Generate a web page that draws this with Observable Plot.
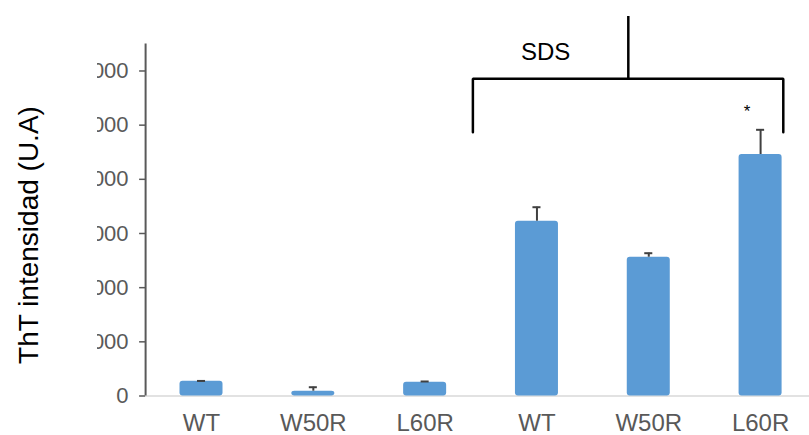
<!DOCTYPE html>
<html>
<head>
<meta charset="utf-8">
<script src="https://cdn.jsdelivr.net/npm/d3@7"></script>
<script src="https://cdn.jsdelivr.net/npm/@observablehq/plot@0.6"></script>
<style>
  html, body { margin: 0; padding: 0; background: #fff; overflow: hidden; }
  #page { position: relative; width: 809px; height: 435px; overflow: hidden; background: #fff;
          font-family: "Liberation Sans", Arial, sans-serif; }
  #ytitle { position: absolute; left: 29px; top: 235px; transform: translate(-50%, -50%) rotate(-90deg);
            white-space: nowrap; font-size: 28px; color: #000; }
  #plotwrap { position: absolute; left: 97px; top: 0; width: 712px; height: 435px; overflow: hidden; }
  #plotwrap svg { position: absolute; left: -97px; top: 0; max-width: none !important; width: 830px; height: 435px; }
</style>
</head>
<body>
<div id="page">
  <div id="ytitle">ThT intensidad (U.A)</div>
  <div id="plotwrap"></div>
</div>
<script>
// ThT fluorescence per variant, without and with SDS
const categories = ["WT", "W50R", "L60R", "WT", "W50R", "L60R"];
const treatment = ["", "", "", "SDS", "SDS", "SDS"];
const intensity = [273, 89, 255, 3227, 2562, 4458];
const errorUp = [5, 73, 13, 258, 74, 456];
const yTicks = [0, 1000, 2000, 3000, 4000, 5000, 6000];

// SDS bracket (x in category index units, y in intensity units)
const bracketLeft = 2.427;
const bracketRight = 5.203;
const bracketStem = 3.817;
const bracketLevel = 5856;
const bracketLegEnd = 4870;
const bracketStemTop = 7006;
const sdsLabel = {text: "SDS", x: 3.077, y: 6341};
const starLabel = {text: "*", x: 4.88, y: 5260};

const rows = categories.map((c, i) => ({i, category: c, treatment: treatment[i], value: intensity[i], err: errorUp[i]}));
const half = 0.1923;
const capHalf = 0.036;

const bracketPath = [
  {x: bracketLeft, y: bracketLegEnd},
  {x: bracketLeft, y: bracketLevel},
  {x: bracketRight, y: bracketLevel},
  {x: bracketRight, y: bracketLegEnd}
];

const chart = Plot.plot({
  width: 830,
  height: 435,
  marginLeft: 145.1,
  marginRight: 14,
  marginTop: 43.4,
  marginBottom: 39.5,
  style: {fontFamily: "'Liberation Sans', Arial, sans-serif", background: "transparent", overflow: "visible", maxWidth: "none"},
  x: {type: "linear", domain: [-0.5, 5.5]},
  y: {domain: [0, 6500]},
  marks: [
    Plot.ruleY([0], {stroke: "#d9d9d9", strokeWidth: 1.5}),
    Plot.rectY(rows, {x1: d => d.i - half, x2: d => d.i + half, y1: 0, y2: "value", fill: "#5b9bd5", rx: 3}),
    Plot.ruleX(rows, {x: "i", y1: "value", y2: d => d.value + d.err, stroke: "#404040", strokeWidth: 2}),
    Plot.ruleY(rows, {y: d => d.value + d.err, x1: d => d.i - capHalf, x2: d => d.i + capHalf, stroke: "#404040", strokeWidth: 2}),
    Plot.ruleX([-0.5], {y1: 0, y2: 6500, stroke: "#595959", strokeWidth: 2}),
    Plot.axisY({ticks: yTicks, tickSize: 6, tickPadding: 11, fontSize: 22, tickFormat: d => String(d),
                label: null, stroke: "#595959", fill: "#595959", strokeWidth: 1.5}),
    Plot.axisX({ticks: [0, 1, 2, 3, 4, 5], tickFormat: i => categories[i], tickSize: 0, tickPadding: 17.5,
                fontSize: 24, fill: "#595959", label: null}),
    Plot.line(bracketPath, {x: "x", y: "y", stroke: "#000", strokeWidth: 2.5, strokeLinejoin: "miter", curve: "linear"}),
    Plot.ruleX([bracketStem], {y1: bracketLevel, y2: bracketStemTop, stroke: "#000", strokeWidth: 2.5}),
    Plot.text([sdsLabel], {x: "x", y: "y", text: "text", fontSize: 24, fill: "#000"}),
    Plot.text([starLabel], {x: "x", y: "y", text: "text", fontSize: 17, fill: "#000"})
  ]
});

document.getElementById("plotwrap").appendChild(chart);
</script>
</body>
</html>
